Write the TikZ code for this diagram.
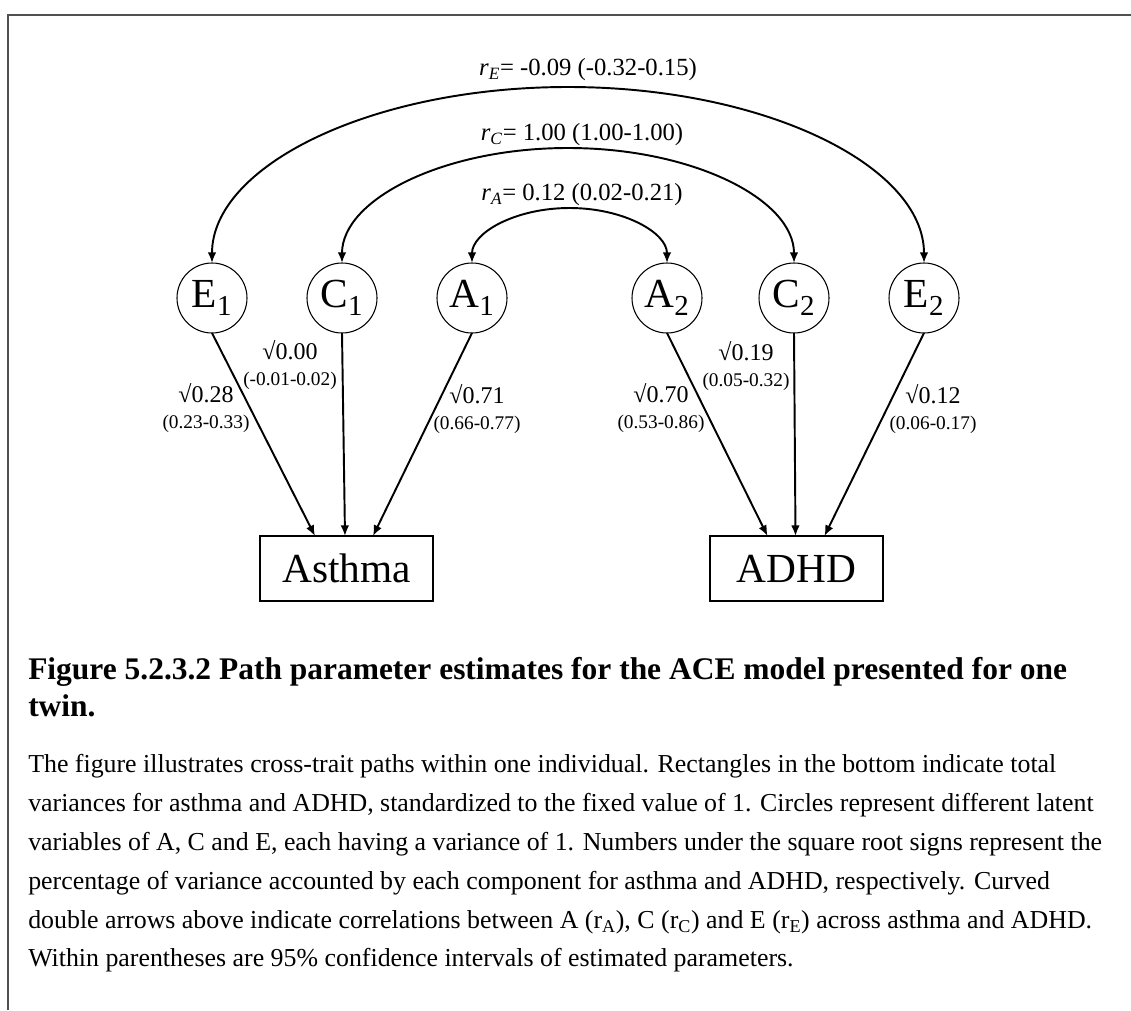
\documentclass[tikz,border=0pt]{standalone}
\usepackage{fontspec}
\setmainfont{Liberation Serif}
\usetikzlibrary{arrows.meta,positioning,calc}
\definecolor{frameGray}{RGB}{80,80,80}
\tikzset{
	latent/.style={
		draw,
		circle,
		minimum size=52.5pt,
		inner sep=0pt,
		outer sep=0pt,
		line width=0.8pt,
		font=\fontsize{31}{31}\selectfont
	},
	trait/.style={
		draw,
		rectangle,
		minimum width=129.75pt,
		minimum height=48.75pt,
		inner sep=0pt,
		outer sep=0pt,
		line width=1.4pt,
		font=\fontsize{31}{31}\selectfont
	},
	parr/.style={-{Latex[length=8pt,width=6.5pt]}, line width=1.45pt},
	carr/.style={{Latex[length=8pt,width=6.5pt]}-{Latex[length=8pt,width=6.5pt]}, line width=1.45pt},
	plab/.style={align=center, inner sep=0pt, font=\fontsize{14.5}{19.5}\selectfont},
	rlab/.style={inner sep=0pt, font=\fontsize{18.5}{20}\selectfont},
	captitle/.style={anchor=base west, inner sep=0pt, font=\bfseries\fontsize{23.6}{26}\selectfont},
	captxt/.style={anchor=base west, inner sep=0pt, font=\fontsize{19.4}{22}\selectfont}
}
\newcommand{\pathval}[2]{{\fontsize{18}{19.5}\selectfont #1}\\#2}
\newcommand{\corrlab}[1]{\textit{r}\textsubscript{\textit{#1}}}

\begin{document}
\begin{tikzpicture}[x=0.75pt, y=-0.75pt]
		\useasboundingbox (0,0) rectangle (1131,1010);
		\draw[frameGray, line width=1.1pt] (8,1010) -- (8,15) -- (1131,15);
		% latent factors
		\node[latent] (E1) at (212,298) {E\textsubscript{1}};
		\node[latent] (C1) at (342,298) {C\textsubscript{1}};
		\node[latent] (A1) at (472,298) {A\textsubscript{1}};
		\node[latent] (A2) at (667,298) {A\textsubscript{2}};
		\node[latent] (C2) at (794,298) {C\textsubscript{2}};
		\node[latent] (E2) at (924,298) {E\textsubscript{2}};
		% observed traits
		\node[trait] (asthma) at (346.5,568.5) {Asthma};
		\node[trait] (adhd) at (796.5,568.5) {ADHD};
		\draw[parr] (E1.south) -- ($(asthma.north)+(-31.5,0)$);
		\draw[parr] (C1.south) -- ($(asthma.north)+(-1.5,0)$);
		\draw[parr] (A1.south) -- ($(asthma.north)+(26.5,0)$);
		\draw[parr] (A2.south) -- ($(adhd.north)+(-29,0)$);
		\draw[parr] (C2.south) -- ($(adhd.north)+(-1,0)$);
		\draw[parr] (E2.south) -- ($(adhd.north)+(28,0)$);
		\node[plab] (pE1) at (206,408) {\pathval{√0.28}{(0.23-0.33)}};
		\node[plab] (pC1) at (290,365) {\pathval{√0.00}{(-0.01-0.02)}};
		\node[plab] (pA1) at (477,409) {\pathval{√0.71}{(0.66-0.77)}};
		\node[plab] (pA2) at (661,408) {\pathval{√0.70}{(0.53-0.86)}};
		\node[plab] (pC2) at (746,366) {\pathval{√0.19}{(0.05-0.32)}};
		\node[plab] (pE2) at (933,409) {\pathval{√0.12}{(0.06-0.17)}};
		% correlations
		\coordinate (topE) at (568,87);
		\coordinate (topC) at (568,148);
		\coordinate (topA) at (569.5,208);
		\draw[carr] (E1.north) .. controls +(0,-97) and +(-197,0) .. (topE) .. controls +(197,0) and +(0,-97) .. (E2.north);
		\draw[carr] (C1.north) .. controls +(0,-63.5) and +(-125,0) .. (topC) .. controls +(125,0) and +(0,-63.5) .. (C2.north);
		\draw[carr] (A1.north) .. controls +(0,-30.4) and +(-54,0) .. (topA) .. controls +(54,0) and +(0,-30.4) .. (A2.north);
		\node[rlab] (rE) at (588,70) {\corrlab{E}= -0.09 (-0.32-0.15)};
		\node[rlab] (rC) at (582,135) {\corrlab{C}= 1.00 (1.00-1.00)};
		\node[rlab] (rA) at (582,195) {\corrlab{A}= 0.12 (0.02-0.21)};
		% caption
		\node[captitle] (tit1) at (28,679) {Figure 5.2.3.2 Path parameter estimates for the ACE model presented for one};
		\node[captitle] (tit2) at (28,716) {twin.};
		\node[captxt] (txt1) at (28,772) {The figure illustrates cross-trait paths within one individual. Rectangles in the bottom indicate total};
		\node[captxt] (txt2) at (28,811) {variances for asthma and ADHD, standardized to the fixed value of 1. Circles represent different latent};
		\node[captxt] (txt3) at (28,850) {variables of A, C and E, each having a variance of 1. Numbers under the square root signs represent the};
		\node[captxt] (txt4) at (28,889) {percentage of variance accounted by each component for asthma and ADHD, respectively. Curved};
		\node[captxt] (txt5) at (28,928) {double arrows above indicate correlations between A (r\textsubscript{A}), C (r\textsubscript{C}) and E (r\textsubscript{E}) across asthma and ADHD.};
		\node[captxt] (txt6) at (28,966) {Within parentheses are 95\% confidence intervals of estimated parameters.};
	\end{tikzpicture}
\end{document}
